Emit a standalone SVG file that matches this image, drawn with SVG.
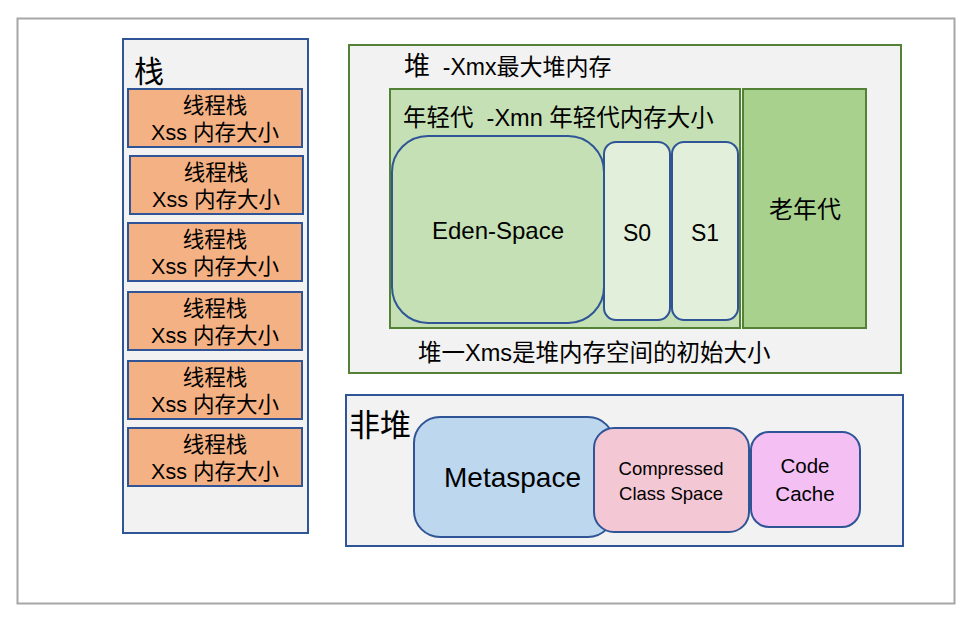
<svg xmlns="http://www.w3.org/2000/svg" width="976" height="626" viewBox="0 0 976 626">
<style>
text { font-family: "Liberation Sans", "Noto Sans CJK SC", sans-serif; fill: #000; }
.panel { fill: #f2f2f2; stroke-width: 2; }
.blue { stroke: #2f5597; }
.green { stroke: #538135; }
.thread rect { fill: #f4b183; stroke: #2f5597; stroke-width: 2; }
.thread text { font-size: 21.5px; text-anchor: middle; }
.mid { text-anchor: middle; }
</style>
<rect x="0" y="0" width="976" height="626" fill="#ffffff"/>
<rect x="17.5" y="18.5" width="937" height="585" fill="#ffffff" stroke="#a6a6a6" stroke-width="2"/>

<g id="stack">
  <rect class="panel blue" x="123" y="39" width="185" height="494"/>
  <text x="134" y="82" font-size="30">栈</text>
</g>
<g id="thread1" class="thread"><rect x="128" y="89" width="174" height="58"/><text x="215" y="113">线程栈</text><text x="215" y="140">Xss 内存大小</text></g>
<g id="thread2" class="thread"><rect x="130" y="156" width="173" height="58"/><text x="216" y="180">线程栈</text><text x="216" y="207">Xss 内存大小</text></g>
<g id="thread3" class="thread"><rect x="128" y="223" width="174" height="58"/><text x="215" y="247">线程栈</text><text x="215" y="274">Xss 内存大小</text></g>
<g id="thread4" class="thread"><rect x="128" y="292" width="174" height="58"/><text x="215" y="316">线程栈</text><text x="215" y="343">Xss 内存大小</text></g>
<g id="thread5" class="thread"><rect x="128" y="361" width="174" height="58"/><text x="215" y="385">线程栈</text><text x="215" y="412">Xss 内存大小</text></g>
<g id="thread6" class="thread"><rect x="128" y="428" width="174" height="58"/><text x="215" y="452">线程栈</text><text x="215" y="479">Xss 内存大小</text></g>

<g id="heap">
  <rect class="panel green" x="349" y="45" width="552" height="328"/>
  <text x="404" y="75" font-size="23" xml:space="preserve"><tspan font-size="26">堆</tspan>  -Xmx最大堆内存</text>
  <text x="418" y="361" font-size="23.5">堆一Xms是堆内存空间的初始大小</text>
</g>
<g id="young">
  <rect x="390" y="89" width="350" height="239" fill="#c5e0b4" stroke="#538135" stroke-width="2"/>
  <text x="403" y="126" font-size="23.5" xml:space="preserve">年轻代  -Xmn 年轻代内存大小</text>
</g>
<g id="eden">
  <rect x="392" y="136" width="212" height="187" rx="36" fill="#c5e0b4" stroke="#2f5597" stroke-width="2"/>
  <text class="mid" x="498" y="239" font-size="24">Eden-Space</text>
</g>
<g id="s0">
  <rect x="604" y="142" width="66" height="178" rx="12" fill="#e2efda" stroke="#2f5597" stroke-width="2"/>
  <text class="mid" x="637" y="241" font-size="23">S0</text>
</g>
<g id="s1">
  <rect x="672" y="142" width="66" height="178" rx="12" fill="#e2efda" stroke="#2f5597" stroke-width="2"/>
  <text class="mid" x="705" y="241" font-size="23">S1</text>
</g>
<g id="old">
  <rect x="743" y="89" width="123" height="239" fill="#a9d18e" stroke="#538135" stroke-width="2"/>
  <text class="mid" x="805" y="218" font-size="24">老年代</text>
</g>

<g id="nonheap">
  <rect class="panel blue" x="346" y="395" width="557" height="151"/>
  <text x="349" y="436" font-size="31">非堆</text>
</g>
<g id="metaspace">
  <rect x="414" y="417" width="200" height="120" rx="26" fill="#bdd7ee" stroke="#2f5597" stroke-width="2"/>
  <text x="444" y="487" font-size="28">Metaspace</text>
</g>
<g id="ccs">
  <rect x="594" y="428" width="155" height="104" rx="20" fill="#f4c7d4" stroke="#2f5597" stroke-width="2"/>
  <text class="mid" x="671" y="475" font-size="18.5">Compressed</text>
  <text class="mid" x="671" y="500" font-size="18.5">Class Space</text>
</g>
<g id="codecache">
  <rect x="751" y="432" width="109" height="95" rx="18" fill="#f4c0f4" stroke="#2f5597" stroke-width="2"/>
  <text class="mid" x="805" y="473" font-size="20.5">Code</text>
  <text class="mid" x="805" y="501" font-size="20.5">Cache</text>
</g>
<g id="connectors"></g>
</svg>
